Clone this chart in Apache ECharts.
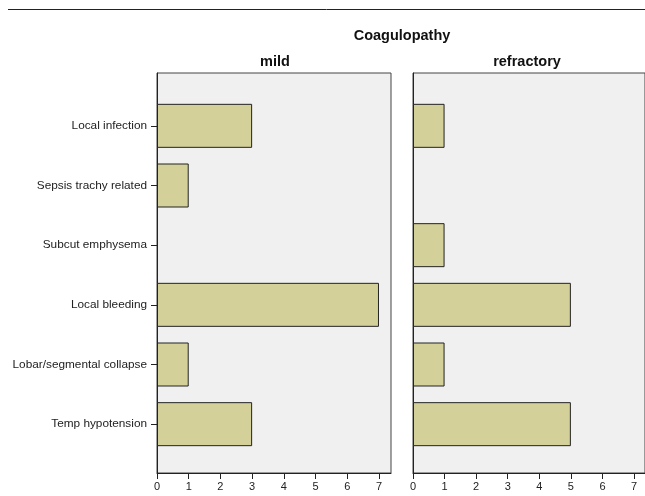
<!DOCTYPE html>
<html><head><meta charset="utf-8">
<script src="https://cdn.jsdelivr.net/npm/echarts@6/dist/echarts.min.js"></script>
<style>html,body{margin:0;padding:0;background:#fff}#c{width:645px;height:496px}</style>
</head><body><div id="c"></div>
<script>
const categories = ["Local infection","Sepsis trachy related","Subcut emphysema","Local bleeding","Lobar/segmental collapse","Temp hypotension"];
const mildValues = [3,1,0,7,1,3];
const refractoryValues = [1,0,1,5,1,5];
const panelNames = ["mild","refractory"];
const xTicks = [0,1,2,3,4,5,6,7];

const UNIT = 31.71;
const font = "Liberation Sans, Arial, sans-serif";
const chart = echarts.init(document.getElementById('c'));
const panels = [{left:157, width:234}, {left:413, width:233}];
const grids = [];
panels.forEach(p => grids.push({left:p.left, width:p.width, top:73, bottom:23, show:true, backgroundColor:'#f0f0f0', borderColor:'#444', borderWidth:1}));
panels.forEach(p => grids.push({left:p.left, width:p.width, top:96, bottom:42}));

const xAxes = [];
const yAxes = [];
[0,1].forEach(i => {
  xAxes.push({type:'value', gridIndex:i, min:0, max:panels[i].width/UNIT,
    axisLine:{show:true, lineStyle:{color:'#222', width:1}},
    axisTick:{show:true, length:6, customValues:xTicks, lineStyle:{color:'#222'}},
    axisLabel:{show:true, color:'#222', fontSize:11, fontFamily:font, margin:8, customValues:xTicks},
    splitLine:{show:false}});
  yAxes.push({type:'value', gridIndex:i, min:0, max:1,
    axisLine:{show:true, onZero:false, lineStyle:{color:'#222', width:1}},
    axisTick:{show:false}, axisLabel:{show:false}, splitLine:{show:false}});
});
[0,1].forEach(i => {
  xAxes.push({type:'value', gridIndex:i+2, min:0, max:panels[i].width/UNIT, show:false});
  yAxes.push({type:'category', gridIndex:i+2, data:categories, inverse:true,
    axisLine:{show:false},
    axisTick:{show:i===0, length:6, alignWithLabel:true, lineStyle:{color:'#222'}},
    axisLabel:{show:i===0, color:'#222', fontSize:11.8, fontFamily:font, margin:10},
    splitLine:{show:false}});
});

const barStyle = {color:'#d4d09a', borderColor:'#222', borderWidth:1};
const toData = arr => arr.map(v => v === 0 ? {value:v, itemStyle:{borderWidth:0}} : v);
const titleStyle = {fontSize:14.5, fontWeight:'bold', fontFamily:font, color:'#111'};
chart.setOption({
  animation:false,
  backgroundColor:'#fff',
  title:[
    {text:'Coagulopathy', left:397, top:23, textAlign:'center', textStyle:titleStyle},
    {text:panelNames[0], left:270, top:49, textAlign:'center', textStyle:titleStyle},
    {text:panelNames[1], left:522, top:49, textAlign:'center', textStyle:titleStyle}
  ],
  graphic:[{type:'line', shape:{x1:8, y1:9.5, x2:645, y2:9.5}, style:{stroke:'#222', lineWidth:1}}],
  grid:grids,
  xAxis:xAxes,
  yAxis:yAxes,
  series:[
    {type:'bar', xAxisIndex:2, yAxisIndex:2, data:toData(mildValues), barWidth:44, itemStyle:barStyle},
    {type:'bar', xAxisIndex:3, yAxisIndex:3, data:toData(refractoryValues), barWidth:44, itemStyle:barStyle}
  ]
});
</script></body></html>
